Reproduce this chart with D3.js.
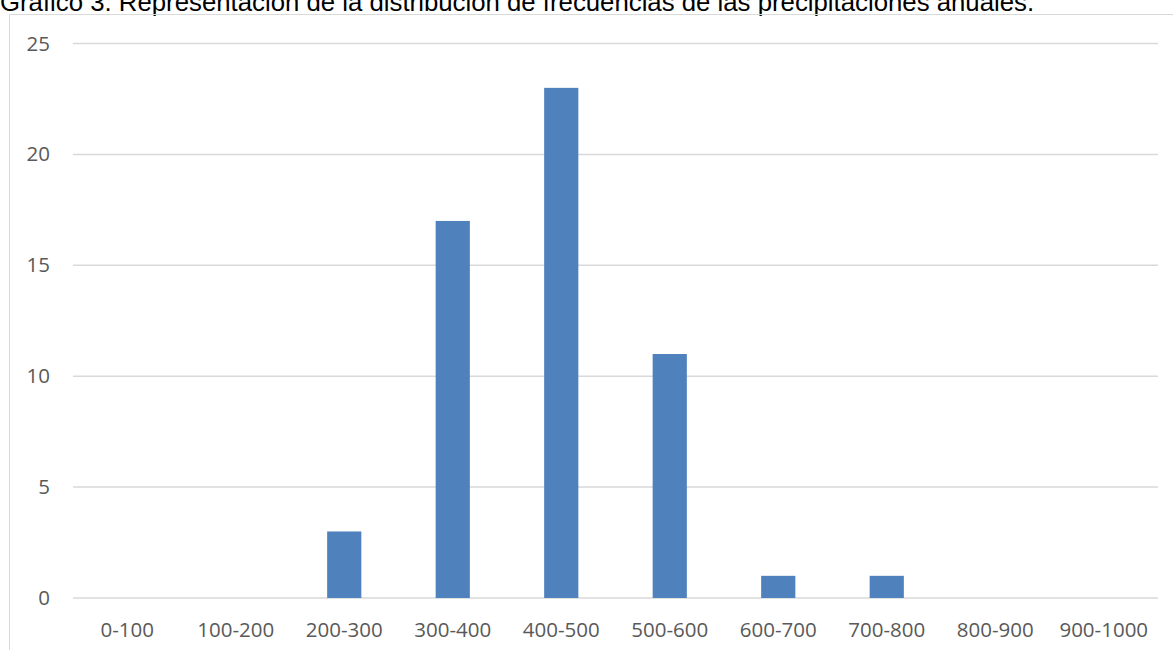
<!DOCTYPE html>
<html>
<head>
<meta charset="utf-8">
<script src="https://cdn.jsdelivr.net/npm/d3@7"></script>
<style>
  html, body { margin: 0; padding: 0; background: #fff; overflow: hidden; }
  svg { display: block; }
</style>
</head>
<body>
<svg id="chart" width="1173" height="650"></svg>
<script>
// Annual precipitation classes (mm) and number of years in each class
const categories = ["0-100", "100-200", "200-300", "300-400", "400-500",
                    "500-600", "600-700", "700-800", "800-900", "900-1000"];
const frequencies = [0, 0, 3, 17, 23, 11, 1, 1, 0, 0];
const yTicks = [0, 5, 10, 15, 20, 25];
const titleText = "Gráfico 3. Representación de la distribución de frecuencias de las precipitaciones anuales.";

const svg = d3.select("#chart");
const W = 1173, H = 650;
const plot = { left: 73, right: 1158, top: 43.5, bottom: 598 };

// Title sits above the chart frame
const title = svg.append("text")
  .attr("x", 0)
  .attr("y", 11)
  .attr("font-family", "Liberation Sans, Arial, sans-serif")
  .attr("font-size", 20)
  .attr("fill", "#000")
  .text(titleText);
const tw = title.node().getComputedTextLength();
title.attr("font-size", 20 * 1035 / tw);

// Chart area frame
svg.append("rect")
  .attr("x", 9.5).attr("y", 14.5)
  .attr("width", W + 20).attr("height", H + 20)
  .attr("fill", "none")
  .attr("stroke", "#d9d9d9")
  .attr("stroke-width", 1);

const x = d3.scaleBand()
  .domain(categories)
  .range([plot.left, plot.right])
  .paddingInner(0.685)
  .paddingOuter(0.3425);

const y = d3.scaleLinear()
  .domain([0, 25])
  .range([plot.bottom, plot.top]);

// Horizontal gridlines
svg.append("g")
  .selectAll("line")
  .data(yTicks)
  .join("line")
  .attr("x1", plot.left).attr("x2", plot.right)
  .attr("y1", d => y(d)).attr("y2", d => y(d))
  .attr("stroke", "#d9d9d9")
  .attr("stroke-width", 1.5);

// Bars
svg.append("g")
  .selectAll("rect")
  .data(categories.map((c, i) => ({ c, v: frequencies[i] })))
  .join("rect")
  .attr("x", d => x(d.c))
  .attr("width", x.bandwidth())
  .attr("y", d => y(d.v))
  .attr("height", d => y(0) - y(d.v))
  .attr("fill", "#4f81bd");

// Y axis labels
const yAxis = svg.append("g")
  .attr("transform", `translate(${plot.left - 23},0)`)
  .call(d3.axisLeft(y).tickValues(yTicks).tickSize(0).tickPadding(0));
yAxis.select(".domain").remove();
yAxis.selectAll("text")
  .attr("font-family", "Open Sans, sans-serif")
  .attr("font-size", 20.5)
  .attr("fill", "#595959");

// X axis labels
const xAxis = svg.append("g")
  .attr("transform", `translate(0,${plot.bottom})`)
  .call(d3.axisBottom(x).tickSize(0).tickPadding(0));
xAxis.select(".domain").remove();
xAxis.selectAll("text")
  .attr("dy", null)
  .attr("y", 39)
  .attr("font-family", "Open Sans, sans-serif")
  .attr("font-size", 20.5)
  .attr("fill", "#595959");
</script>
</body>
</html>
